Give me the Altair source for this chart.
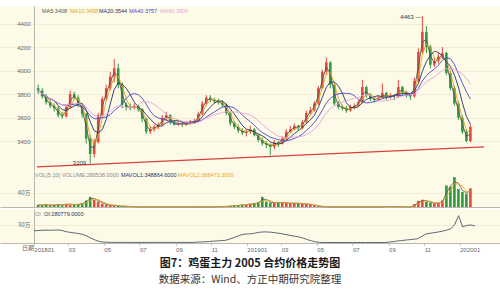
import altair as alt
import pandas as pd

# ---------------- data (weekly bars) ----------------
opens = [3850,3830,3780,3730,3700,3680,3620,3610,3690,3800,
         3770,3710,3630,3420,3290,3390,3620,3760,3850,3950,
         4020,3880,3710,3690,3680,3700,3670,3590,3480,3500,
         3520,3540,3600,3620,3560,3540,3550,3540,3550,3560,
         3570,3630,3720,3770,3750,3740,3730,3710,3640,3550,
         3520,3490,3470,3480,3500,3450,3410,3380,3370,3350,
         3390,3380,3420,3480,3500,3530,3510,3560,3640,3660,
         3720,3850,3990,4070,3880,3720,3690,3680,3660,3690,
         3700,3730,3860,3790,3760,3750,3770,3810,3770,3790,
         3780,3860,3810,3790,3780,3910,4160,4330,4200,4050,
         4080,4120,4150,3980,3850,3720,3600,3480,3400]
highs = [3880,3850,3800,3760,3720,3700,3650,3710,3830,3820,
         3790,3720,3640,3450,3420,3640,3780,3880,3990,4100,
         4060,3900,3730,3720,3720,3710,3680,3600,3530,3540,
         3560,3620,3650,3630,3580,3570,3560,3570,3580,3590,
         3650,3740,3790,3790,3770,3760,3750,3720,3650,3570,
         3540,3510,3500,3530,3510,3460,3430,3400,3380,3410,
         3400,3440,3500,3530,3550,3540,3580,3660,3690,3740,
         3870,4010,4110,4080,3890,3740,3710,3700,3710,3720,
         3750,3920,3870,3810,3780,3790,3890,3820,3810,3800,
         3920,3870,3830,3800,3940,4190,4463,4380,4220,4110,
         4150,4200,4160,4000,3870,3740,3620,3500,3540]
lows = [3800,3760,3710,3680,3650,3600,3590,3600,3680,3750,
        3690,3600,3380,3209,3260,3380,3600,3740,3830,3900,
        3850,3680,3660,3660,3670,3650,3560,3460,3460,3480,
        3500,3530,3570,3540,3530,3530,3520,3530,3540,3550,
        3560,3620,3700,3730,3720,3710,3690,3620,3530,3500,
        3470,3450,3440,3460,3440,3390,3360,3340,3280,3330,
        3350,3370,3410,3470,3490,3490,3500,3550,3620,3650,
        3710,3840,3970,3850,3700,3670,3660,3640,3650,3670,
        3690,3720,3770,3740,3730,3740,3760,3750,3760,3750,
        3770,3790,3770,3750,3770,3900,4140,4150,4020,4030,
        4060,4100,3960,3830,3700,3580,3460,3390,3390]
closes = [3830,3780,3730,3700,3680,3620,3610,3690,3800,3770,
          3710,3630,3420,3290,3390,3620,3760,3850,3950,4020,
          3880,3710,3690,3680,3700,3670,3590,3480,3500,3520,
          3540,3600,3620,3560,3540,3550,3540,3550,3560,3570,
          3630,3720,3770,3750,3740,3730,3710,3640,3550,3520,
          3490,3470,3480,3500,3450,3410,3380,3370,3350,3390,
          3380,3420,3480,3500,3530,3510,3560,3640,3660,3720,
          3850,3990,4070,3880,3720,3690,3680,3660,3690,3700,
          3730,3860,3790,3760,3750,3770,3810,3770,3790,3780,
          3860,3810,3790,3780,3910,4160,4330,4200,4050,4080,
          4120,4150,3980,3850,3720,3600,3480,3400,3520]
volumes = [60000,50000,70000,40000,60000,80000,50000,90000,70000,60000,
           80000,100000,180000,280000,200000,150000,90000,60000,50000,40000,
           30000,20000,15000,10000,8000,5000,5000,4000,4000,4000,
           4000,4000,4000,4000,4000,4000,4000,4000,4000,4000,
           5000,5000,5000,5000,6000,8000,10000,20000,30000,40000,
           50000,60000,70000,90000,100000,130000,280000,150000,120000,110000,
           130000,120000,110000,100000,110000,100000,90000,80000,60000,40000,
           20000,5000,5000,5000,5000,5000,5000,5000,5000,5000,
           5000,5000,5000,5000,5000,5000,5000,20000,5000,5000,
           15000,5000,5000,5000,80000,170000,200000,150000,120000,100000,
           110000,180000,600000,560000,830000,500000,420000,370000,520000]
open_interest = [200000,205000,210000,212000,210000,212000,214000,205000,185000,175000,
                 165000,155000,140000,115000,80000,50000,25000,15000,12000,10000,
                 10000,10000,10000,10000,10000,10000,10000,10000,10000,10000,
                 10000,10000,10000,10000,10000,10000,10000,10000,10000,10000,
                 15000,17000,20000,25000,30000,35000,40000,45000,66000,90000,
                 115000,140000,148000,150000,160000,175000,182000,182000,178000,170000,
                 160000,148000,135000,122000,110000,99000,80000,55000,35000,20000,
                 10000,8000,8000,8000,8000,8000,8000,8000,8000,8000,
                 8000,8000,8000,8000,8000,8000,8000,15000,22000,33000,
                 40000,48000,55000,62000,70000,110000,148000,160000,170000,181000,
                 195000,210000,231000,300000,450000,265000,290000,297000,281000]
weeks = pd.date_range("2018-01-01", periods=len(closes), freq="7D")

trend_dates = ["2017-12-30", "2020-02-20"]
trend_prices = [3180, 3350]

price_ticks = [3400, 3600, 3800, 4000, 4200, 4400]
month_ticks = [(2018, m) for m in (1, 3, 5, 7, 9, 11)] + \
              [(2019, m) for m in (1, 3, 5, 7, 9, 11)] + [(2020, 1)]

ma_names = ["MA5", "MA10", "MA20", "MA40", "MA60"]
ma_texts = ["MA5:3408", "MA10:3458", "MA20:3544", "MA40:3757", "MA60:3904"]
vol_texts = ["VOL(5,10) VOLUME:280538.0000", "MAVOL1:348864.6000", "MAVOL2:368473.3000"]
oi_texts = ["OI", "OI:280779.0000"]
low_label = "3209"
high_label = "4463"

# ---------------- styles ----------------
UP, DOWN = "#e5483e", "#2f9a40"
MA_COLORS = ["#555555", "#e8a317", "#24306a", "#4b45d0", "#e7a2d8"]
CREAM = "#fdfbe8"
AX = "#b9b8ae"
GRID = "#ebe7cb"
FONT = "Liberation Sans"
CJK = "Noto Sans CJK SC"
W = 500
H_MAIN, H_VOL, H_OI = 165, 36, 34

df = pd.DataFrame({"date": weeks, "open": opens, "high": highs, "low": lows,
                   "close": closes, "vol": volumes, "oi": open_interest})
df["dir"] = ["up" if c >= o else "down" for o, c in zip(opens, closes)]

xscale = alt.Scale(domain=[alt.DateTime(year=2017, month=11, date=4),
                           alt.DateTime(year=2020, month=3, date=10)])
pscale = alt.Scale(domain=[3145, 4550], nice=False, zero=False)
dirscale = alt.Scale(domain=["up", "down"], range=[UP, DOWN])

def xenc(show=False):
    if show:
        ax = alt.Axis(values=[alt.DateTime(year=y, month=m, date=1) for y, m in month_ticks],
                      labelExpr="month(datum.value) == 0 ? timeFormat(datum.value, '%Y%m') : timeFormat(datum.value, '%m')",
                      labelAlign="left", labelFontSize=6, labelColor="#666", labelFont=FONT,
                      tickSize=2, tickColor=AX, domainColor=AX, grid=False, title=None,
                      labelPadding=1, labelOverlap=False, labelFlush=False)
    else:
        ax = alt.Axis(labels=False, ticks=False, grid=False, title=None, domainColor=AX)
    return alt.X("date:T", scale=xscale, axis=ax)

def yaxis(values, expr=None):
    kw = dict(values=values, offset=-34, orient="left", labelFontSize=6, labelColor="#666",
              labelFont=CJK if expr else FONT, ticks=False, labelPadding=4,
              domainColor=AX, grid=True, gridColor=GRID, gridWidth=0.7, title=None,
              labelOverlap=False, format="d")
    if expr:
        kw["labelExpr"] = expr
    return alt.Axis(**kw)

PAX = yaxis(price_ticks)

def py(field):
    return alt.Y(field, scale=pscale, axis=PAX)

def texts(items, colors, xs, y, size=5.5):
    layers = []
    for t, c, px in zip(items, colors, xs):
        layers.append(alt.Chart(pd.DataFrame({"t": [t]})).mark_text(
            align="left", baseline="middle", fontSize=size, color=c, font=FONT
        ).encode(text="t:N", x=alt.value(px), y=alt.value(y)))
    return layers

# ---------------- main price panel ----------------
base = alt.Chart(df)
wick = base.mark_rule(strokeWidth=1).encode(
    x=xenc(), y=py("low:Q"), y2="high:Q",
    color=alt.Color("dir:N", scale=dirscale, legend=None))
body = base.mark_bar(size=2.6).encode(
    x=xenc(), y=py("open:Q"), y2="close:Q",
    color=alt.Color("dir:N", scale=dirscale, legend=None))
ma = base.transform_window(MA5="mean(close)", frame=[-1, 0], sort=[alt.SortField("date")]
).transform_window(MA10="mean(close)", frame=[-2, 0], sort=[alt.SortField("date")]
).transform_window(MA20="mean(close)", frame=[-4, 0], sort=[alt.SortField("date")]
).transform_window(MA40="mean(close)", frame=[-8, 0], sort=[alt.SortField("date")]
).transform_window(MA60="mean(close)", frame=[-12, 0], sort=[alt.SortField("date")]
).transform_fold(ma_names, as_=["ma", "val"]).mark_line(strokeWidth=1, opacity=0.9).encode(
    x=xenc(), y=py("val:Q"),
    stroke=alt.Stroke("ma:N", scale=alt.Scale(domain=ma_names, range=MA_COLORS), legend=None),
    detail="ma:N")
trend = alt.Chart(pd.DataFrame({"date": pd.to_datetime(trend_dates), "p": trend_prices})).mark_line(
    color="#d8413a", strokeWidth=1.4).encode(x=xenc(), y=py("p:Q"))
lowtxt = alt.Chart(pd.DataFrame({"date": [weeks[lows.index(min(lows))]], "p": [min(lows)], "t": [low_label]})
).mark_text(align="right", baseline="middle", dx=-4, fontSize=6, color="#333", font=FONT).encode(
    x=xenc(), y=py("p:Q"), text="t:N")
hightxt = alt.Chart(pd.DataFrame({"date": [weeks[highs.index(max(highs))]], "p": [max(highs)], "t": [high_label + " —"]})
).mark_text(align="right", baseline="middle", dx=-1, dy=1, fontSize=6, color="#333", font=FONT).encode(
    x=xenc(), y=py("p:Q"), text="t:N")

main = alt.layer(wick, body, ma, trend, lowtxt, hightxt,
                 *texts(ma_texts, MA_COLORS, [42, 70, 99, 129, 160], 5)
                 ).properties(width=W, height=H_MAIN)

# ---------------- volume panel ----------------
vscale = alt.Scale(domain=[0, 1000000], nice=False)
VAX = yaxis([400000], "'40万'")
vbars = base.mark_bar(size=2.6).encode(
    x=xenc(), y=alt.Y("vol:Q", scale=vscale, axis=VAX),
    color=alt.Color("dir:N", scale=dirscale, legend=None))
vma = base.transform_window(MAVOL1="mean(vol)", frame=[-1, 0], sort=[alt.SortField("date")]
).transform_window(MAVOL2="mean(vol)", frame=[-2, 0], sort=[alt.SortField("date")]
).transform_fold(["MAVOL1", "MAVOL2"], as_=["k", "v"]).mark_line(strokeWidth=0.8).encode(
    x=xenc(), y=alt.Y("v:Q", scale=vscale, axis=VAX), detail="k:N",
    stroke=alt.Stroke("k:N", scale=alt.Scale(domain=["MAVOL1", "MAVOL2"], range=["#24306a", "#e8a317"]), legend=None))
vol = alt.layer(vbars, vma, *texts(vol_texts, ["#888", "#24306a", "#e8a317"], [35, 121, 178], 4)
                ).properties(width=W, height=H_VOL)

# ---------------- open interest panel ----------------
oscale = alt.Scale(domain=[0, 560000], nice=False)
oline = base.mark_line(strokeWidth=1, color="#5d6675").encode(
    x=xenc(True), y=alt.Y("oi:Q", scale=oscale, axis=yaxis([300000], "'30万'")))
datelbl = alt.Chart(pd.DataFrame({"t": ["日期"]})).mark_text(
    align="left", baseline="top", fontSize=6, color="#666", font=CJK
).encode(text="t:N", x=alt.value(22), y=alt.value(H_OI + 2))
oi = alt.layer(oline, datelbl, *texts(oi_texts, ["#888", "#24306a"], [35, 44], 5)
               ).properties(width=W, height=H_OI)

chart = alt.vconcat(main, vol, oi, spacing=0).properties(
    title=alt.TitleParams(
        text="图7：鸡蛋主力 2005 合约价格走势图",
        subtitle="数据来源：Wind、方正中期研究院整理",
        orient="bottom", anchor="middle", font=CJK, fontSize=11, fontWeight="bold",
        color="#1a1a1a", subtitleFont=CJK, subtitleFontSize=10.5, subtitleColor="#333",
        offset=6, subtitlePadding=6),
    padding={"left": 0, "right": 0, "top": 6, "bottom": 4},
    background="white",
).configure_view(fill=CREAM, stroke=None).configure_concat(spacing=0)

chart.save("out.html", embed_options={"renderer": "svg", "actions": False})
